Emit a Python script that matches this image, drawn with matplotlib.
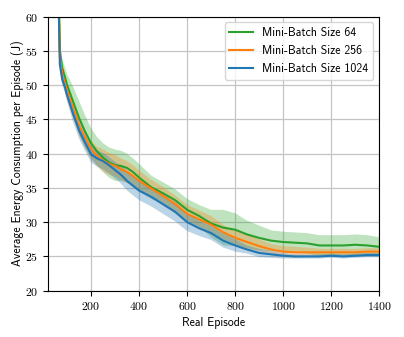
import numpy as np
import matplotlib
matplotlib.use('Agg')
import matplotlib.pyplot as plt

plt.rcParams['axes.formatter.use_mathtext'] = True

episodes = [60, 65, 70, 80, 90, 100, 125, 150, 175, 200, 225, 250, 275, 300, 325, 350, 375, 400,
            450, 500, 550, 600, 650, 700, 750, 800, 850, 900, 950, 1000, 1050, 1100, 1150, 1200,
            1250, 1300, 1350, 1400]

# mean curves
mb64 = [80, 64, 55, 52.5, 51.3, 50.0, 47.6, 45.2, 43.2, 41.5, 40.3, 39.4, 38.7, 38.3, 38.2, 37.9, 37.3, 36.5,
        35.1, 34.2, 33.2, 31.8, 30.9, 29.8, 29.2, 28.9, 28.2, 27.7, 27.3, 27.1, 27.0, 26.9, 26.6, 26.6,
        26.6, 26.7, 26.6, 26.4]
mb256 = [80, 63, 54, 51.5, 50.3, 49.1, 46.5, 44.0, 42.2, 40.6, 39.6, 39.0, 38.5, 38.2, 37.7, 37.3, 36.7, 36.0,
         34.9, 33.8, 32.6, 31.2, 30.4, 29.6, 28.5, 27.7, 27.1, 26.5, 26.0, 25.7, 25.6, 25.6, 25.6, 25.6,
         25.6, 25.6, 25.7, 25.7]
mb1024 = [80, 62, 53, 50.8, 49.8, 48.5, 45.8, 43.4, 41.6, 39.9, 39.3, 38.9, 38.3, 37.6, 36.9, 36.0, 35.3, 34.6,
          33.7, 32.6, 31.5, 30.0, 29.1, 28.4, 27.3, 26.6, 26.0, 25.5, 25.3, 25.1, 25.0, 25.0, 25.0, 25.1,
          25.0, 25.1, 25.2, 25.2]

# spread (half width of shaded band)
sd64 = [1.0, 1.0, 1.0, 1.2, 1.4, 1.6, 2.2, 2.5, 2.4, 2.2, 2.1, 2.1, 2.2, 2.3, 2.2, 2.1, 2.0, 2.0,
        1.7, 1.6, 1.6, 1.6, 1.6, 2.0, 2.6, 2.4, 2.0, 1.8, 1.5, 1.5, 1.5, 1.5, 1.5, 1.5,
        1.5, 1.5, 1.5, 1.4]
sd256 = [0.7, 0.7, 0.7, 0.7, 0.8, 1.0, 1.2, 1.2, 1.2, 1.3, 1.4, 1.6, 1.6, 1.6, 1.6, 1.6, 1.6, 1.5,
         1.3, 1.3, 1.3, 1.3, 1.3, 1.3, 1.1, 1.1, 1.1, 1.0, 0.8, 0.8, 0.8, 0.7, 0.5, 0.5,
         0.5, 0.5, 0.5, 0.5]
sd1024 = [0.8, 0.8, 0.8, 0.8, 0.8, 0.9, 1.2, 1.2, 1.2, 1.2, 1.2, 1.2, 1.2, 1.2, 1.3, 1.4, 1.4, 1.4,
          1.4, 1.4, 1.4, 1.3, 1.1, 1.0, 1.0, 0.9, 0.6, 0.6, 0.5, 0.4, 0.3, 0.3, 0.3, 0.3,
          0.3, 0.3, 0.3, 0.3]

labels = ['Mini-Batch Size 64', 'Mini-Batch Size 256', 'Mini-Batch Size 1024']
colors = ['#2ca02c', '#ff7f0e', '#1f77b4']

fig = plt.figure(figsize=(4.04, 3.37), dpi=100)
ax = fig.add_axes([0.1196, 0.1374, 0.8194, 0.8136])

x = np.array(episodes)
for m, s, lab, c in zip([mb64, mb256, mb1024], [sd64, sd256, sd1024], labels, colors):
    m = np.array(m)
    s = np.array(s)
    ax.fill_between(x, m - s, m + s, color=c, alpha=0.3, linewidth=0)
for m, lab, c in zip([mb64, mb256, mb1024], labels, colors):
    ax.plot(x, m, color=c, lw=1.5, label=lab)

ax.set_xlim(22, 1400)
ax.set_ylim(20, 60)
ax.set_xticks([200, 400, 600, 800, 1000, 1200, 1400])
ax.set_yticks([20, 25, 30, 35, 40, 45, 50, 55, 60])
ax.grid(True, color='#c4c4c4', lw=0.9)
ax.set_axisbelow(True)
for t in ax.get_xticklabels() + ax.get_yticklabels():
    t.set_fontfamily('cmr10')
    t.set_fontsize(8.5)
ax.tick_params(length=3.5, width=0.8)

ax.set_xlabel('Real Episode', fontfamily='cmss10', fontsize=8.5, labelpad=3)
ax.set_ylabel('Average Energy Consumption per Episode (J)', fontfamily='cmss10', fontsize=8.5, labelpad=1)
ax.legend(loc='upper right', prop={'family': 'cmss10', 'size': 8.5})

fig.savefig('out.png', dpi=100)
